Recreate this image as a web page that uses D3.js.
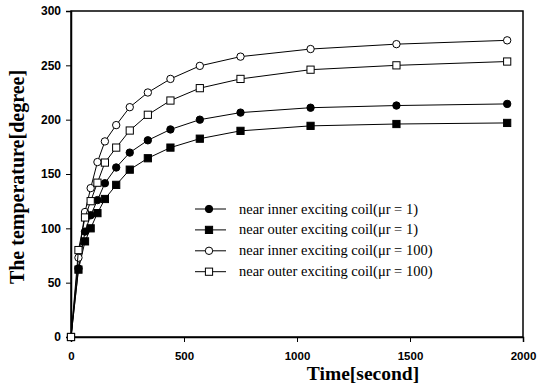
<!DOCTYPE html>
<html>
<head>
<meta charset="utf-8">
<script src="https://cdn.jsdelivr.net/npm/d3@7"></script>
<style>
  body { margin: 0; background: #fff; }
</style>
</head>
<body>
<div id="container"></div>
<script>
// Data
const times = [0, 33, 62, 87, 117, 150, 200, 260, 340, 440, 570, 750, 1060, 1440, 1930];
const innerMu1 = [0, 63, 97, 112, 126, 141.5, 156, 169.7, 181, 191, 200, 206.5, 211, 213, 214.5];
const outerMu1 = [0, 62, 88, 100, 114, 127, 140, 154, 164.5, 174.3, 182.5, 189.7, 194.3, 196, 197];
const innerMu100 = [0, 73, 115, 137, 161, 180, 195, 211.5, 225, 237.5, 249.5, 258, 265, 269.5, 273];
const outerMu100 = [0, 80, 110, 125, 142, 160.5, 174.3, 190, 204.5, 217.6, 229, 237.5, 246, 250, 253.5];
const seriesNames = [
  "near inner exciting coil(\u03bcr = 1)",
  "near outer exciting coil(\u03bcr = 1)",
  "near inner exciting coil(\u03bcr = 100)",
  "near outer exciting coil(\u03bcr = 100)"
];
const xTicks = [0, 500, 1000, 1500, 2000];
const yTicks = [0, 50, 100, 150, 200, 250, 300];

// chart dimensions
const width = 537;
const height = 392;
const marginTop = 11;
const marginRight = 14;
const marginBottom = 55;
const marginLeft = 71;

const x = d3.scaleLinear().domain([0, 2000]).range([marginLeft, width - marginRight]);
const y = d3.scaleLinear().domain([0, 300]).range([height - marginBottom, marginTop]);

const series = [
  { name: seriesNames[0], values: innerMu1, shape: "circle", fill: "black" },
  { name: seriesNames[1], values: outerMu1, shape: "square", fill: "black" },
  { name: seriesNames[2], values: innerMu100, shape: "circle", fill: "white" },
  { name: seriesNames[3], values: outerMu100, shape: "square", fill: "white" }
];

const svg = d3.create("svg").attr("width", width).attr("height", height);
document.getElementById("container").appendChild(svg.node());

// frame
svg.append("rect")
  .attr("x", marginLeft)
  .attr("y", marginTop)
  .attr("width", width - marginRight - marginLeft)
  .attr("height", height - marginBottom - marginTop)
  .attr("fill", "none")
  .attr("stroke", "black")
  .attr("stroke-width", 1.5);

// axes
const xAxis = svg.append("g")
  .attr("transform", `translate(0,${height - marginBottom})`)
  .call(d3.axisBottom(x).tickValues(xTicks).tickSize(5).tickPadding(10).tickFormat(d3.format("d")));
const yAxis = svg.append("g")
  .attr("transform", `translate(${marginLeft},0)`)
  .call(d3.axisLeft(y).tickValues(yTicks).tickSize(5).tickPadding(5));

[xAxis, yAxis].forEach(ax => {
  ax.select(".domain").attr("stroke-width", 1.5);
  ax.selectAll("text")
    .attr("font-family", "'Liberation Sans', Arial, sans-serif")
    .attr("font-weight", "bold")
    .attr("font-size", 12)
    .attr("fill", "black");
});
xAxis.selectAll("text").attr("font-size", 11.5);

// axis titles
svg.append("text")
  .attr("x", 363)
  .attr("y", 380)
  .attr("text-anchor", "middle")
  .attr("font-family", "'Liberation Serif', 'Times New Roman', serif")
  .attr("font-weight", "bold")
  .attr("font-size", 19.5)
  .text("Time[second]");

svg.append("text")
  .attr("transform", "translate(24,177) rotate(-90)")
  .attr("text-anchor", "middle")
  .attr("font-family", "'Liberation Serif', 'Times New Roman', serif")
  .attr("font-weight", "bold")
  .attr("font-size", 20)
  .text("The temperature[degree]");

// lines
const line = d3.line()
  .x((d, i) => x(times[i]))
  .y(d => y(d));

const drawMarker = (g, shape, fill, cx, cy) => {
  if (shape === "circle") {
    g.append("circle")
      .attr("cx", cx).attr("cy", cy).attr("r", 3.7)
      .attr("fill", fill).attr("stroke", "black").attr("stroke-width", 1);
  } else {
    g.append("rect")
      .attr("x", cx - 3.6).attr("y", cy - 3.6)
      .attr("width", 7.2).attr("height", 7.2)
      .attr("fill", fill).attr("stroke", "black").attr("stroke-width", 1);
  }
};

series.forEach(s => {
  const g = svg.append("g");
  g.append("path")
    .datum(s.values)
    .attr("fill", "none")
    .attr("stroke", "black")
    .attr("stroke-width", 1)
    .attr("d", line);
  s.values.forEach((v, i) => drawMarker(g, s.shape, s.fill, x(times[i]), y(v)));
});

// legend
const legend = svg.append("g").attr("transform", "translate(195,209)");
series.forEach((s, i) => {
  const row = legend.append("g").attr("transform", `translate(0,${i * 20.9})`);
  row.append("line")
    .attr("x1", 0).attr("x2", 31)
    .attr("stroke", "black").attr("stroke-width", 1);
  drawMarker(row, s.shape, s.fill, 14, 0);
  row.append("text")
    .attr("x", 44)
    .attr("y", 4.5)
    .attr("font-family", "'Liberation Serif', 'Times New Roman', serif")
    .attr("font-size", 14.5)
    .text(s.name);
});
</script>
</body>
</html>
